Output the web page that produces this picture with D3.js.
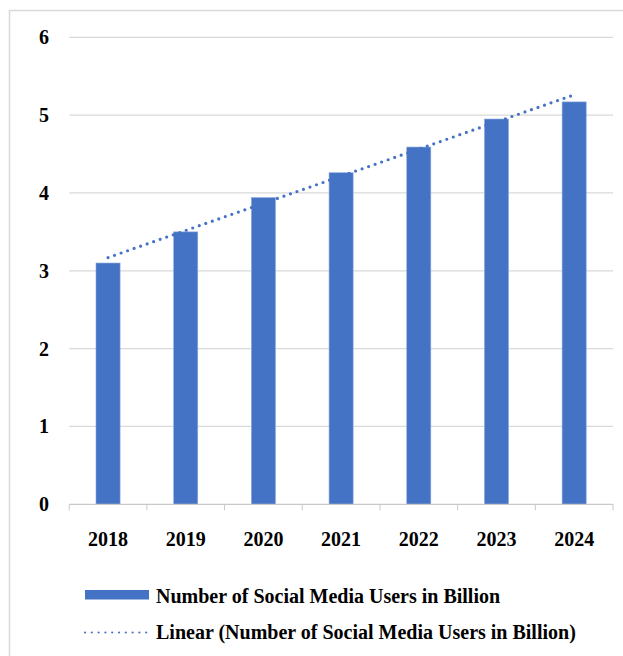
<!DOCTYPE html>
<html>
<head>
<meta charset="utf-8">
<script src="https://cdn.jsdelivr.net/npm/d3@7"></script>
<style>
  html, body { margin: 0; padding: 0; background: #ffffff; }
  svg { display: block; }
</style>
</head>
<body>
<svg id="chart" width="623" height="656"></svg>
<script>
// Social media users worldwide, billions
const years = ["2018", "2019", "2020", "2021", "2022", "2023", "2024"];
const users = [3.1, 3.5, 3.94, 4.26, 4.59, 4.95, 5.17];
const yTicks = [0, 1, 2, 3, 4, 5, 6];
const barLabel = "Number of Social Media Users in Billion";
const trendLabel = "Linear (Number of Social Media Users in Billion)";

const blue = "#4472C4";
const grid = "#d9d9d9";
const serif = "'Liberation Serif', 'Times New Roman', Times, 'DejaVu Serif', serif";

const svg = d3.select("#chart");

function styleText(sel) {
  sel.attr("font-family", serif)
    .attr("font-weight", "bold")
    .attr("font-size", 20)
    .attr("fill", "#000")
    .style("font-family", serif);
}

// outer chart frame
svg.append("rect")
  .attr("x", 9.5).attr("y", 10.5)
  .attr("width", 700).attr("height", 700)
  .attr("fill", "none")
  .attr("stroke", "#d9d9d9")
  .attr("stroke-width", 1.5);

const plot = { left: 69.2, right: 613, top: 37.3, bottom: 504.3 };

const x = d3.scaleBand()
  .domain(years)
  .range([plot.left, plot.right])
  .paddingInner(0.69)
  .paddingOuter(0.345);

const y = d3.scaleLinear()
  .domain([0, 6])
  .range([plot.bottom, plot.top]);

// horizontal gridlines
svg.append("g")
  .selectAll("line")
  .data(yTicks.filter(d => d > 0))
  .join("line")
  .attr("x1", plot.left).attr("x2", plot.right)
  .attr("y1", d => y(d)).attr("y2", d => y(d))
  .attr("stroke", grid)
  .attr("stroke-width", 1.2);

// y-axis labels
const yAxis = d3.axisLeft(y).tickValues(yTicks).tickSize(0).tickPadding(0).tickFormat(d3.format("d"));
const yG = svg.append("g")
  .attr("transform", "translate(49,0)")
  .call(yAxis);
yG.attr("font-family", null).attr("font-size", null);
yG.select(".domain").remove();
yG.selectAll("text").call(styleText);

// bars
svg.append("g")
  .selectAll("rect")
  .data(users)
  .join("rect")
  .attr("x", (d, i) => x(years[i]))
  .attr("y", d => y(d))
  .attr("width", x.bandwidth())
  .attr("height", d => y(0) - y(d))
  .attr("fill", blue)
  .attr("stroke", "#8eaadb")
  .attr("stroke-width", 0.6);

// category axis: baseline with ticks between categories
const step = x.step();
const xG = svg.append("g");
xG.append("line")
  .attr("x1", plot.left).attr("x2", plot.right)
  .attr("y1", y(0)).attr("y2", y(0))
  .attr("stroke", "#c8c8c8")
  .attr("stroke-width", 1.3);
xG.selectAll("line.tick")
  .data(d3.range(years.length + 1))
  .join("line")
  .attr("class", "tick")
  .attr("x1", i => plot.left + i * step)
  .attr("x2", i => plot.left + i * step)
  .attr("y1", y(0)).attr("y2", y(0) + 6)
  .attr("stroke", "#c8c8c8")
  .attr("stroke-width", 1);
xG.selectAll("text")
  .data(years)
  .join("text")
  .attr("x", d => x(d) + x.bandwidth() / 2)
  .attr("y", 546)
  .attr("text-anchor", "middle")
  .call(styleText)
  .text(d => d);

// linear trendline (least squares over category index)
const n = users.length;
const xs = d3.range(n);
const mx = d3.mean(xs), my = d3.mean(users);
const slope = d3.sum(xs, i => (i - mx) * (users[i] - my)) / d3.sum(xs, i => (i - mx) ** 2);
const intercept = my - slope * mx;
const cx = i => x(years[i]) + x.bandwidth() / 2;

svg.append("line")
  .attr("x1", cx(0)).attr("y1", y(intercept))
  .attr("x2", cx(n - 1)).attr("y2", y(intercept + slope * (n - 1)))
  .attr("stroke", blue)
  .attr("stroke-width", 3.2)
  .attr("stroke-linecap", "round")
  .attr("stroke-dasharray", "0 6.9");

// legend
const lg = svg.append("g");
lg.append("rect")
  .attr("x", 85).attr("y", 590)
  .attr("width", 64).attr("height", 9.5)
  .attr("fill", blue);
lg.append("text")
  .attr("x", 156).attr("y", 603)
  .call(styleText)
  .text(barLabel);
lg.append("line")
  .attr("x1", 85).attr("x2", 147)
  .attr("y1", 632.5).attr("y2", 632.5)
  .attr("stroke", blue)
  .attr("stroke-width", 2.2)
  .attr("stroke-linecap", "round")
  .attr("stroke-dasharray", "0 6.8");
lg.append("text")
  .attr("x", 156).attr("y", 639)
  .call(styleText)
  .text(trendLabel);
</script>
</body>
</html>
